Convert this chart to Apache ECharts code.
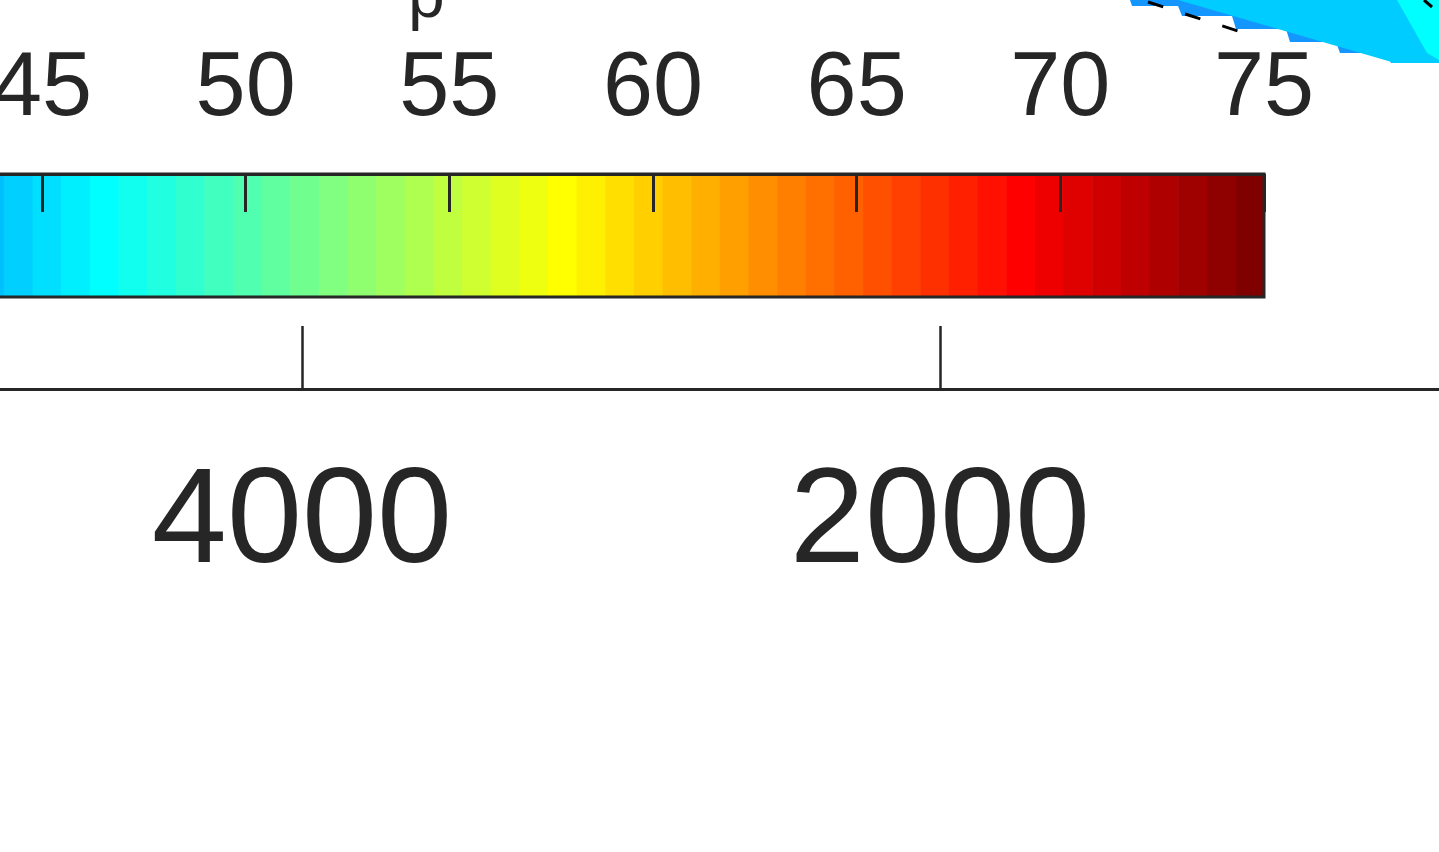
<!DOCTYPE html>
<html>
<head>
<meta charset="utf-8">
<style>
html, body { margin: 0; padding: 0; background: #fff; overflow: hidden; }
/* the figure is wider than the window: shift it so the crop matches */
#main { position: absolute; left: -700px; top: 0; width: 2400px; height: 852px; }
</style>
<script src="https://cdn.jsdelivr.net/npm/echarts@6/dist/echarts.min.js"></script>
</head>
<body>
<div id="main"></div>
<script>
// colour bar (jet, 64 steps)
const cbarMin = 30
const cbarMax = 75
const cbarLevels = 64
const cbarInterval = 5
const cbarTitle = 'p'

// lower axis, runs right to left
const depthMin = 0
const depthMax = 6000
const depthInterval = 2000

// corner of the surface that shows in the top right (projected outline)
const surfDarkX = [30, 32, 78, 82, 132, 136, 186, 190, 236, 240, 287, 291, 339, 339]
const surfDarkY = [0, 6, 6, 16, 16, 29, 29, 42, 42, 53, 53, 63, 63, 0]
const surfMidX = [78, 290, 292, 339, 339]
const surfMidY = [0, 61.5, 63, 63, 0]
const surfCyanX = [297, 327, 339, 339]
const surfCyanY = [0, 53, 60, 0]
const contourX = [48, 138]
const contourY = [2, 31]
const contour2X = [324, 332]
const contour2Y = [0, 7]

const textColor = '#262626'
const fontFamily = '"Liberation Sans", Arial, sans-serif'
const OFFSET = 700 // matches #main left

// MATLAB style jet(n)
function jet(n) {
    const m = Math.ceil(n / 4)
    const u = []
    for (let i = 1; i <= m; i++) u.push(i / m)
    for (let i = 1; i < m; i++) u.push(1)
    for (let i = m; i >= 1; i--) u.push(i / m)
    const off = Math.ceil(m / 2) - (n % 4 === 1 ? 1 : 0)
    const g = u.map((_, i) => off + i + 1)
    const r = g.map(v => v + m).filter(v => v <= n)
    const b = g.map(v => v - m).filter(v => v >= 1)
    const gg = g.filter(v => v <= n)
    const J = Array.from({ length: n }, () => [0, 0, 0])
    r.forEach((idx, i) => { J[idx - 1][0] = u[i] })
    gg.forEach((idx, i) => { J[idx - 1][1] = u[i] })
    b.forEach((idx, i) => { J[idx - 1][2] = u[u.length - b.length + i] })
    return J.map(c => `rgb(${Math.round(c[0] * 255)},${Math.round(c[1] * 255)},${Math.round(c[2] * 255)})`)
}
const cbarColors = jet(cbarLevels)
const bandStep = (cbarMax - cbarMin) / cbarLevels

const surfPatches = [
    { x: surfDarkX, y: surfDarkY, color: 'rgb(20,150,255)' },
    { x: surfMidX, y: surfMidY, color: 'rgb(0,204,255)' },
    { x: surfCyanX, y: surfCyanY, color: 'rgb(0,255,255)' }
]

const chart = echarts.init(document.getElementById('main'))

const options = {
    backgroundColor: '#fff',
    animation: false,
    title: {
        text: cbarTitle,
        left: 408 + OFFSET,
        top: -34,
        padding: 0,
        textStyle: { fontSize: 66, fontWeight: 'normal', color: textColor, fontFamily }
    },
    grid: [
        // colour bar
        { left: -569 + OFFSET, top: 174, width: 1833, height: 123, outerBoundsMode: 'none' },
        // lower axis
        { left: -336 + OFFSET, top: 300, width: 1914, height: 89, outerBoundsMode: 'none' },
        // surface corner
        { left: 1100 + OFFSET, top: 0, width: 339, height: 70, outerBoundsMode: 'none' }
    ],
    xAxis: [
        {
            gridIndex: 0, type: 'value', position: 'top', z: 5,
            min: cbarMin, max: cbarMax, interval: cbarInterval,
            axisLine: { show: true, onZero: false, lineStyle: { color: textColor, width: 3 } },
            axisTick: { show: true, inside: true, length: 38, lineStyle: { color: textColor, width: 3 } },
            axisLabel: { show: true, margin: 39, fontSize: 90, color: textColor, fontFamily, formatter: v => String(v) },
            splitLine: { show: false }
        },
        {
            gridIndex: 1, type: 'value', position: 'bottom', inverse: true,
            min: depthMin, max: depthMax, interval: depthInterval,
            axisLine: { show: true, onZero: false, lineStyle: { color: textColor, width: 3 } },
            axisTick: { show: true, inside: true, length: 63, lineStyle: { color: textColor, width: 2.5 } },
            axisLabel: { show: true, margin: 68, fontSize: 135, color: textColor, fontFamily, formatter: v => String(v) },
            splitLine: { show: false }
        },
        { gridIndex: 2, type: 'value', min: 0, max: 339, show: false }
    ],
    yAxis: [
        { gridIndex: 0, type: 'value', show: false, min: 0, max: 1 },
        { gridIndex: 1, type: 'value', show: false, min: 0, max: 1 },
        { gridIndex: 2, type: 'value', show: false, min: 0, max: 70, inverse: true }
    ],
    series: [
        {
            // colour bar bands
            type: 'custom',
            xAxisIndex: 0, yAxisIndex: 0, z: 1,
            data: cbarColors.map((c, i) => [i]),
            renderItem: (params, api) => {
                const i = api.value(0)
                const lo = cbarMin + i * bandStep
                const p0 = api.coord([lo, 1])
                const p1 = api.coord([lo + bandStep, 0])
                return {
                    type: 'rect',
                    shape: { x: p0[0], y: p0[1], width: p1[0] - p0[0] + 0.6, height: p1[1] - p0[1] },
                    style: { fill: cbarColors[i] }
                }
            }
        },
        {
            // colour bar frame
            type: 'custom',
            xAxisIndex: 0, yAxisIndex: 0, z: 3,
            data: [[0]],
            renderItem: (params, api) => {
                const p0 = api.coord([cbarMin, 1])
                const p1 = api.coord([cbarMax, 0])
                return {
                    type: 'rect',
                    shape: { x: p0[0], y: p0[1], width: p1[0] - p0[0], height: p1[1] - p0[1] },
                    style: { fill: 'none', stroke: textColor, lineWidth: 3 }
                }
            }
        },
        {
            // surface patches
            type: 'custom',
            xAxisIndex: 2, yAxisIndex: 2, z: 1,
            data: surfPatches.map((p, i) => [i]),
            renderItem: (params, api) => {
                const p = surfPatches[api.value(0)]
                const points = p.x.map((x, k) => api.coord([x, p.y[k]]))
                return { type: 'polygon', shape: { points }, style: { fill: p.color } }
            }
        },
        {
            type: 'line', xAxisIndex: 2, yAxisIndex: 2, z: 2,
            symbol: 'none',
            data: contourX.map((x, i) => [x, contourY[i]]),
            lineStyle: { color: '#000', width: 3, type: [16, 23] }
        },
        {
            type: 'line', xAxisIndex: 2, yAxisIndex: 2, z: 2,
            symbol: 'none',
            data: contour2X.map((x, i) => [x, contour2Y[i]]),
            lineStyle: { color: '#000', width: 3 }
        }
    ]
}

chart.setOption(options)
window.addEventListener('resize', () => chart.resize())
</script>
</body>
</html>
